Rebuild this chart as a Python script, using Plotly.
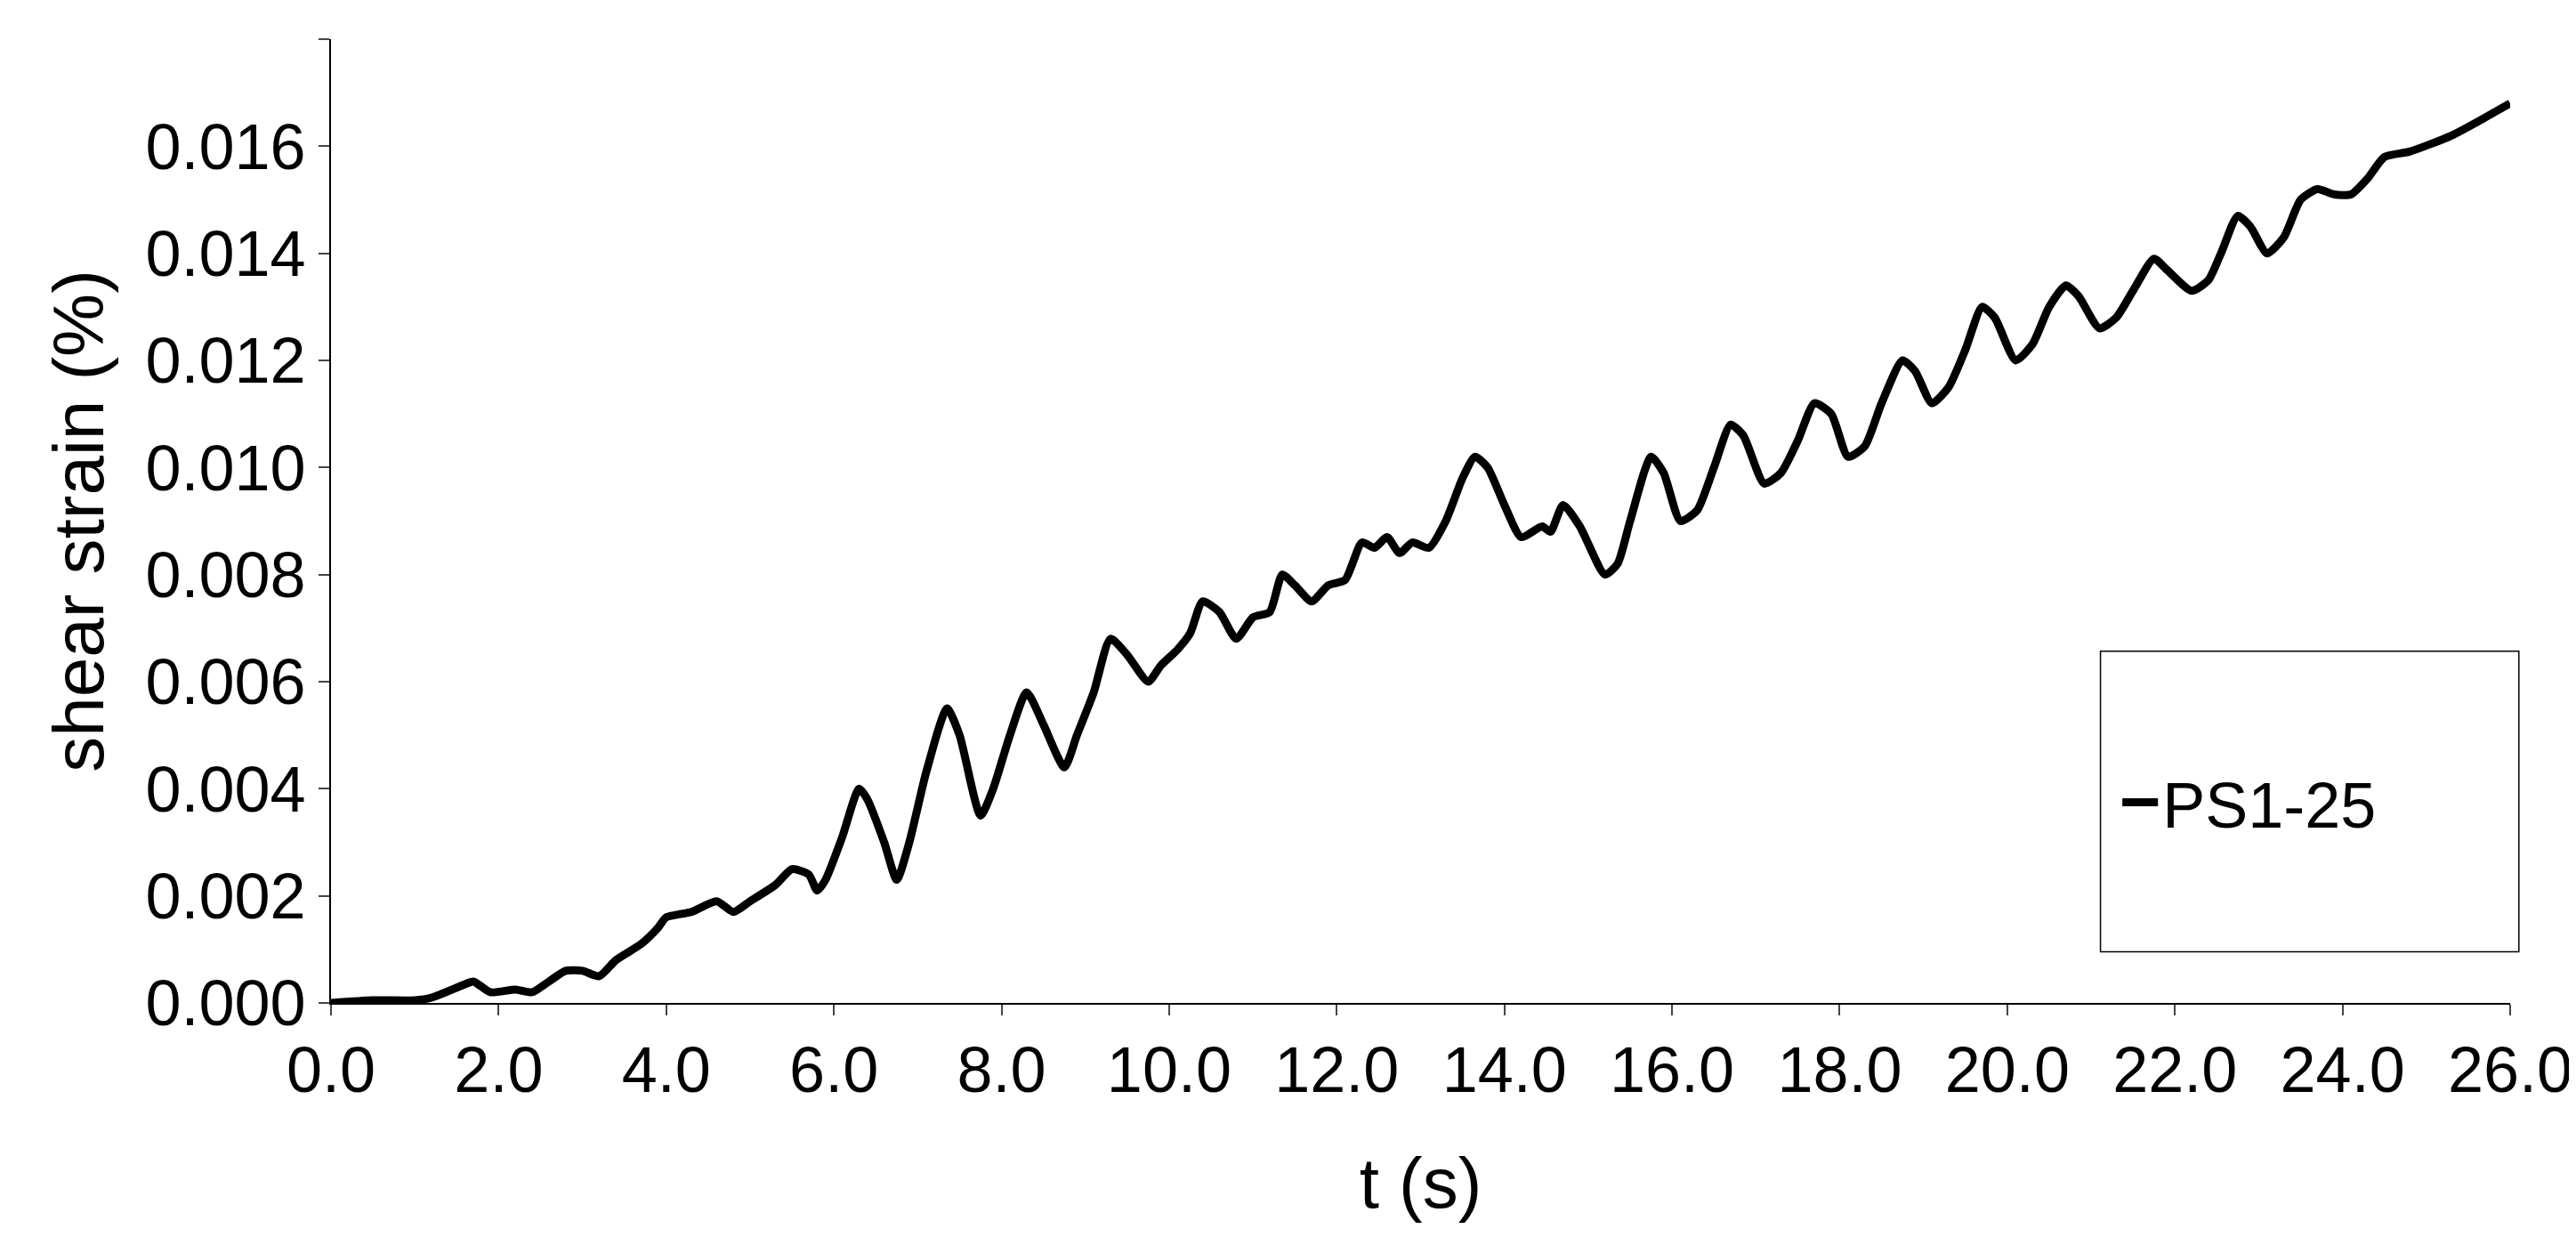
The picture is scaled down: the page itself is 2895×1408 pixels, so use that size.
import plotly.graph_objects as go

t = [0, 0.5, 1.0, 1.2, 1.6, 1.7, 1.9, 2.2, 2.4, 2.6, 2.8, 3.0, 3.2, 3.4, 3.7, 3.9, 4.0, 4.3, 4.6, 4.8, 5.0, 5.3, 5.5, 5.7, 5.8, 5.9, 6.1, 6.3, 6.4, 6.6, 6.75, 6.9, 7.1, 7.35, 7.5, 7.75, 7.9, 8.1, 8.3, 8.5, 8.75, 8.9, 9.1, 9.3, 9.5, 9.75, 9.9, 10.1, 10.25, 10.4, 10.6, 10.8, 11.0, 11.2, 11.35, 11.5, 11.7, 11.9, 12.1, 12.3, 12.45, 12.6, 12.75, 12.9, 13.1, 13.3, 13.5, 13.65, 13.8, 14.0, 14.2, 14.45, 14.55, 14.7, 14.9, 15.2, 15.35, 15.5, 15.75, 15.9, 16.1, 16.3, 16.5, 16.7, 16.85, 17.1, 17.3, 17.5, 17.7, 17.9, 18.1, 18.3, 18.5, 18.75, 18.9, 19.1, 19.3, 19.5, 19.7, 19.85, 20.1, 20.3, 20.5, 20.7, 20.85, 21.1, 21.3, 21.5, 21.75, 21.9, 22.2, 22.4, 22.55, 22.75, 22.9, 23.1, 23.3, 23.5, 23.7, 23.9, 24.1, 24.3, 24.5, 24.8, 25.3, 26.0]
strain = [0, 0.00005, 0.00005, 0.0001, 0.00035, 0.0004, 0.0002, 0.00025, 0.0002, 0.0004, 0.0006, 0.0006, 0.0005, 0.0008, 0.0011, 0.0014, 0.0016, 0.0017, 0.0019, 0.0017, 0.0019, 0.0022, 0.0025, 0.0024, 0.0021, 0.0023, 0.0031, 0.0040, 0.0038, 0.0030, 0.0023, 0.0030, 0.0043, 0.0055, 0.0050, 0.0035, 0.0040, 0.0050, 0.0058, 0.0052, 0.0044, 0.0050, 0.0058, 0.0068, 0.0065, 0.0060, 0.0063, 0.0066, 0.0069, 0.0075, 0.0073, 0.0068, 0.0072, 0.0073, 0.0080, 0.0078, 0.0075, 0.0078, 0.0079, 0.0086, 0.0085, 0.0087, 0.0084, 0.0086, 0.0085, 0.0090, 0.0098, 0.0102, 0.0100, 0.0093, 0.0087, 0.0089, 0.0088, 0.0093, 0.0089, 0.0080, 0.0082, 0.0090, 0.0102, 0.0099, 0.0090, 0.0092, 0.0100, 0.0108, 0.0106, 0.0097, 0.0099, 0.0105, 0.0112, 0.0110, 0.0102, 0.0104, 0.0112, 0.0120, 0.0118, 0.0112, 0.0115, 0.0122, 0.0130, 0.0128, 0.0120, 0.0123, 0.0130, 0.0134, 0.0132, 0.0126, 0.0128, 0.0133, 0.0139, 0.0137, 0.0133, 0.0135, 0.0140, 0.0147, 0.0145, 0.0140, 0.0143, 0.0150, 0.0152, 0.0151, 0.0151, 0.0154, 0.0158, 0.0159, 0.0162, 0.0168]
x_ticks = [i * 2.0 for i in range(14)]
y_ticks = [i * 0.002 for i in range(10)]

FONT = "Liberation Sans, Arial, sans-serif"
fig = go.Figure()
fig.add_trace(go.Scatter(x=t, y=strain, mode="lines", name="PS1-25",
                         line=dict(color="black", width=9, shape="spline", smoothing=0.6)))
fig.add_shape(type="rect", xref="paper", yref="paper", x0=0.812, x1=1.004, y0=0.053, y1=0.365,
              line=dict(color="black", width=1.5), fillcolor="white", layer="below")
fig.update_layout(
    width=2895, height=1408,
    margin=dict(l=364, r=80, t=36, b=289),
    plot_bgcolor="white", paper_bgcolor="white",
    font=dict(family=FONT, size=72, color="black"),
    showlegend=True,
    legend=dict(x=0.82, y=0.208, xanchor="left", yanchor="middle", bgcolor="rgba(0,0,0,0)",
                font=dict(size=72), itemwidth=40),
    xaxis=dict(range=[0, 26], tickvals=x_ticks, tickformat=".1f", showgrid=False, zeroline=False,
               showline=True, linecolor="black", linewidth=2, ticks="outside", ticklen=12,
               tickwidth=2, title=dict(text="t (s)", font=dict(size=80), standoff=60)),
    yaxis=dict(range=[0, 0.018], tickvals=y_ticks, tickformat=".3f", showgrid=False, zeroline=False,
               showline=True, linecolor="black", linewidth=2, ticks="outside", ticklen=12,
               tickwidth=2, title=dict(text="shear strain (%)", font=dict(size=80), standoff=20)),
)
fig.write_html("out.html")
